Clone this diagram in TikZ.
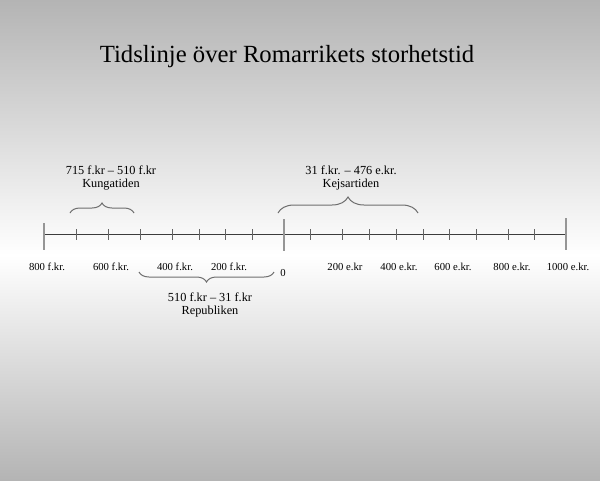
\documentclass[tikz,border=0pt]{standalone}
\usepackage{fontspec}
\setmainfont{Liberation Serif}
\usetikzlibrary{decorations.pathreplacing}
\definecolor{bggray}{RGB}{180,180,180}
\definecolor{linecol}{RGB}{60,60,60}
\definecolor{tallcol}{RGB}{150,150,150}
\definecolor{bracecol}{RGB}{110,110,110}
\begin{document}
\begin{tikzpicture}[x=1pt,y=-1pt,
  ticklabel/.style={font=\fontsize{10.7}{12}\selectfont,inner sep=0pt},
  bracelabel/.style={font=\fontsize{12.3}{14}\selectfont,inner sep=0pt,align=center},
  talltick/.style={draw=tallcol,line width=2pt},
  smalltick/.style={draw=linecol!80,line width=0.8pt},
  bracestyle/.style={draw=bracecol,line width=1pt,decorate}]
\useasboundingbox (0,0) rectangle (600,480);
\shade[top color=bggray,bottom color=white] (0,0) rectangle (600,255);
\shade[top color=white,bottom color=bggray] (0,255) rectangle (600,480);
% title
\node[font=\fontsize{24.7}{28}\selectfont,inner sep=0pt] (title) at (287,57) {Tidslinje över Romarrikets storhetstid};
% main line
\coordinate (L) at (44,234);
\coordinate (R) at (566,234);
\draw[draw=linecol,line width=1pt] (L) -- (R);
% small ticks
\foreach \x in {76,108,140,172,199,225,252,310,342,369,396,423,449,476,508,534}
  \draw[smalltick] (\x,229) -- (\x,240);
% tall ticks
\draw[talltick] (44,223) -- (44,250);
\draw[talltick] (284,219) -- (284,251);
\draw[talltick] (566,218) -- (566,250);
% tick labels
\node[ticklabel] (l800f) at (47,267) {800 f.kr.};
\node[ticklabel] (l600f) at (111,267) {600 f.kr.};
\node[ticklabel] (l400f) at (175,267) {400 f.kr.};
\node[ticklabel] (l200f) at (229,267) {200 f.kr.};
\node[ticklabel] (l0) at (283,273) {0};
\node[ticklabel] (l200e) at (345,267) {200 e.kr};
\node[ticklabel] (l400e) at (399,267) {400 e.kr.};
\node[ticklabel] (l600e) at (453,267) {600 e.kr.};
\node[ticklabel] (l800e) at (512,267) {800 e.kr.};
\node[ticklabel] (l1000e) at (568,267) {1000 e.kr.};
% braces
\coordinate (kA) at (70,213);
\coordinate (kB) at (134,213);
\draw[bracestyle,decoration={brace,amplitude=10pt}] (kA) -- (kB);
\coordinate (eA) at (278,213);
\coordinate (eB) at (418,213);
\draw[bracestyle,decoration={brace,amplitude=16pt}] (eA) -- (eB);
\coordinate (rA) at (139,272);
\coordinate (rB) at (274,272);
\draw[bracestyle,decoration={brace,amplitude=10pt}] (rB) -- (rA);
% brace labels
\node[bracelabel] (kung1) at (111,170) {715 f.kr – 510 f.kr};
\node[bracelabel] (kung2) at (111,185) {Kungatiden};
\node[bracelabel] (kejs1) at (351,170) {31 f.kr. – 476 e.kr.};
\node[bracelabel] (kejs2) at (351,185) {Kejsartiden};
\node[bracelabel] (rep1) at (210,297) {510 f.kr – 31 f.kr};
\node[bracelabel] (rep2) at (210,312) {Republiken};
\end{tikzpicture}
\end{document}
